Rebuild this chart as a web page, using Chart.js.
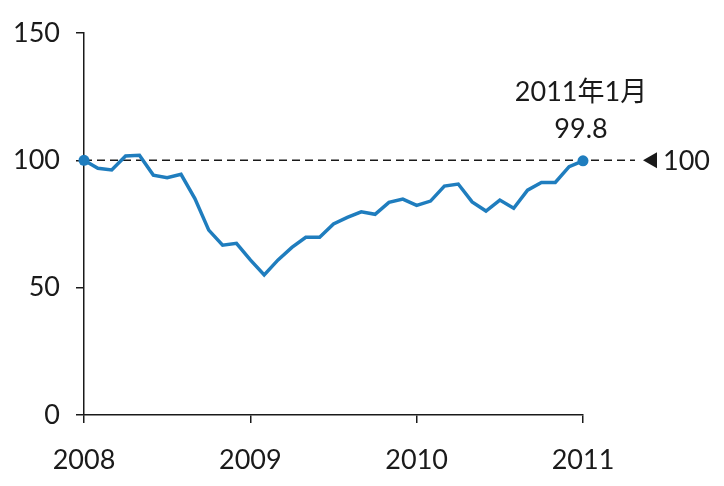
<!DOCTYPE html>
<html lang="ja">
  <head>
    <meta charset="UTF-8" />
    <title>指数の推移</title>
    <script src="https://cdn.jsdelivr.net/npm/chart.js"></script>
    <style>
      html, body { margin: 0; padding: 0; background: #fff; }
      #wrap { width: 724px; height: 486px; }
    </style>
  </head>
  <body>
    <div id="wrap"><canvas id="chart" width="724" height="486"></canvas></div>
    <script>
      // monthly values, 2008年1月 .. 2011年1月
      const values = [
        100, 96.9, 96.2, 101.7, 102, 94.2, 93.2, 94.5, 85, 72.6, 66.7, 67.4,
        60.9, 55, 60.9, 65.8, 69.8, 69.8, 75, 77.6, 79.8, 78.8, 83.5, 84.8,
        82.3, 84, 89.9, 90.7, 83.7, 80.1, 84.4, 81.2, 88.3, 91.3, 91.3, 97.5,
        99.8,
      ];
      const yearLabels = ["2008", "2009", "2010", "2011"];
      const yTicks = [0, 50, 100, 150];
      const refValue = 100;
      const lastLabel = "2011年1月";

      const FONT = "Lato, 'Noto Sans CJK JP', sans-serif";
      const blue = "rgb(31, 125, 190)";
      const dark = "#1a1a1a";
      const lastIdx = values.length - 1;

      const points = values.map((v, i) => ({ x: i, y: v }));
      // reference line runs a bit past the last month
      const refLine = [
        { x: 0, y: refValue },
        { x: lastIdx + 3.75, y: refValue },
      ];

      const labelsPlugin = {
        id: "labels",
        afterDatasetsDraw(chart) {
          const { ctx, scales } = chart;
          const x = scales.x.getPixelForValue(lastIdx);
          const yRef = scales.y.getPixelForValue(refValue);
          ctx.save();
          ctx.fillStyle = dark;
          ctx.textBaseline = "middle";
          ctx.font = "27px " + FONT;
          ctx.textAlign = "center";
          ctx.fillText(lastLabel, x - 2, yRef - 68);
          ctx.fillText(String(values[lastIdx]), x - 2, yRef - 31);
          // ◀ 100 marker at the end of the dashed line
          const xr = scales.x.getPixelForValue(lastIdx + 3.75);
          ctx.beginPath();
          ctx.moveTo(xr + 8, yRef);
          ctx.lineTo(xr + 22, yRef - 8);
          ctx.lineTo(xr + 22, yRef + 8);
          ctx.closePath();
          ctx.fill();
          ctx.textAlign = "left";
          ctx.fillText(String(refValue), xr + 28, yRef + 1);
          ctx.restore();
        },
      };

      new Chart(document.getElementById("chart"), {
        type: "line",
        data: {
          datasets: [
            {
              data: points,
              borderColor: blue,
              backgroundColor: blue,
              borderWidth: 3.5,
              tension: 0,
              pointRadius: (c) =>
                c.dataIndex === 0 || c.dataIndex === lastIdx ? 5.5 : 0,
              pointBorderWidth: 0,
              clip: 8,
              order: 1,
            },
            {
              data: refLine,
              borderColor: dark,
              borderWidth: 1.5,
              borderDash: [8, 5],
              pointRadius: 0,
              clip: false,
              order: 2,
            },
          ],
        },
        options: {
          responsive: false,
          animation: false,
          layout: { padding: { top: 33, right: 141, left: 0, bottom: 0 } },
          plugins: {
            legend: { display: false },
            tooltip: { enabled: false },
          },
          scales: {
            x: {
              type: "linear",
              min: 0,
              max: lastIdx,
              afterBuildTicks: (s) => {
                s.ticks = yearLabels.map((_, i) => ({ value: i * 12 }));
              },
              afterFit: (s) => {
                s.height = 71;
              },
              ticks: {
                callback: (v) => yearLabels[v / 12],
                color: dark,
                font: { family: FONT, size: 27 },
                padding: 21,
                maxRotation: 0,
              },
              grid: {
                drawOnChartArea: false,
                tickLength: 8,
                color: dark,
                lineWidth: 1.5,
              },
              border: { color: dark, width: 1.5 },
            },
            y: {
              min: 0,
              max: 150,
              afterBuildTicks: (s) => {
                s.ticks = yTicks.map((v) => ({ value: v }));
              },
              afterFit: (s) => {
                s.width = 84;
              },
              ticks: {
                color: dark,
                font: { family: FONT, size: 27 },
                padding: 16,
              },
              grid: {
                drawOnChartArea: false,
                tickLength: 8,
                color: dark,
                lineWidth: 1.5,
              },
              border: { color: dark, width: 1.5 },
            },
          },
        },
        plugins: [labelsPlugin],
      });
    </script>
  </body>
</html>
